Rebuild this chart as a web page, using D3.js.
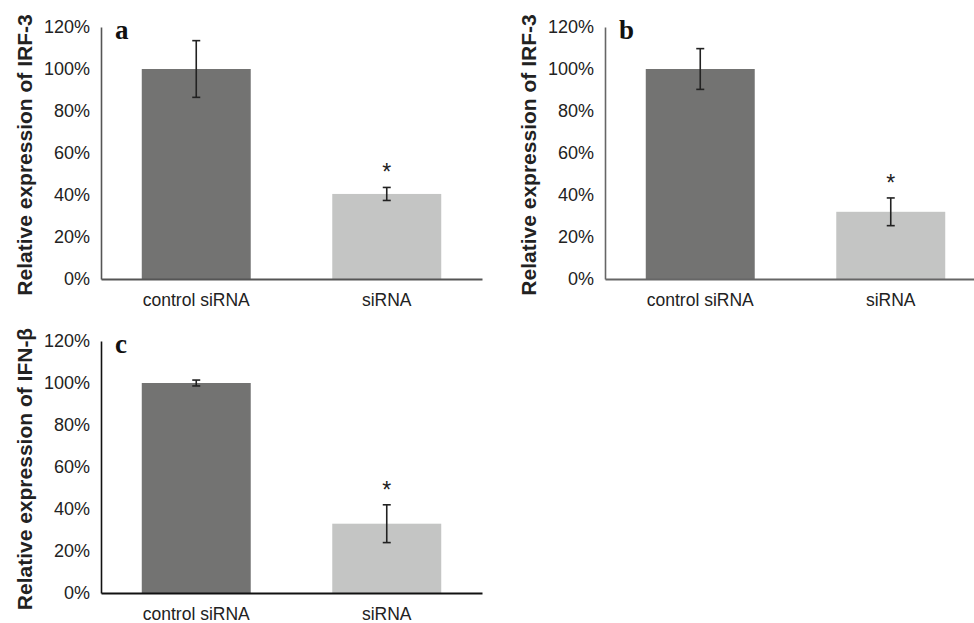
<!DOCTYPE html>
<html>
<head>
<meta charset="utf-8">
<script src="https://cdn.jsdelivr.net/npm/d3@7"></script>
<style>
  body { margin: 0; background: #fff; }
  svg { display: block; }
</style>
</head>
<body>
<div class="chart"></div>
<script>
    // values (percent of control)
    var categories = ["control siRNA", "siRNA"];
    var panelLetters = ["a", "b", "c"];
    var yTitles = ["Relative expression of IRF-3", "Relative expression of IRF-3", "Relative expression of IFN-\u03b2"];
    var meansA = [100, 40.5], errA = [13.5, 3.1];
    var meansB = [100, 32],   errB = [9.7, 6.6];
    var meansC = [100, 33],   errC = [1.4, 9];
    var yTicks = [0, 20, 40, 60, 80, 100, 120];
    var significant = [false, true];

    var barColors = ["#737372", "#c4c5c4"];

    var width = 974, height = 623;

    var svg = d3.select(".chart")
            .append("svg")
            .attr("width", width)
            .attr("height", height);

    // panel placement: left edge of plot, right edge, baseline, axis colour
    var panels = [
        { means: meansA, errs: errA, x0: 101, x1: 482, zero: 279, axisColor: "#555" },
        { means: meansB, errs: errB, x0: 605, x1: 986, zero: 279, axisColor: "#666" },
        { means: meansC, errs: errC, x0: 101, x1: 482, zero: 593, axisColor: "#111" }
    ];

    panels.forEach(function(p, i) {
        var g = svg.append("g");

        var y = d3.scaleLinear()
                .domain([0, 120])
                .range([p.zero, p.zero - 252]);

        var x = d3.scaleBand()
                .domain(categories)
                .range([p.x0, p.x1])
                .paddingInner(0.428)
                .paddingOuter(0.214);

        var rows = categories.map(function(c, k) {
            return { cat: c, mean: p.means[k], err: p.errs[k], k: k };
        });

        // bars
        g.selectAll(".bar")
                .data(rows)
                .enter()
                .append("rect")
                .attr("class", "bar")
                .attr("x", function(d) { return x(d.cat); })
                .attr("width", x.bandwidth())
                .attr("y", function(d) { return y(d.mean); })
                .attr("height", function(d) { return y(0) - y(d.mean); })
                .style("fill", function(d) { return barColors[d.k]; });

        // error bars
        var eb = g.selectAll(".err")
                .data(rows)
                .enter()
                .append("g")
                .attr("class", "err")
                .attr("transform", function(d) {
                    return "translate(" + (x(d.cat) + x.bandwidth() / 2) + ",0)";
                })
                .style("stroke", "#222")
                .style("stroke-width", 1.6);

        eb.append("line")
                .attr("y1", function(d) { return y(d.mean + d.err); })
                .attr("y2", function(d) { return y(d.mean - d.err); });
        eb.append("line")
                .attr("x1", -4).attr("x2", 4)
                .attr("y1", function(d) { return y(d.mean + d.err); })
                .attr("y2", function(d) { return y(d.mean + d.err); });
        eb.append("line")
                .attr("x1", -4).attr("x2", 4)
                .attr("y1", function(d) { return y(d.mean - d.err); })
                .attr("y2", function(d) { return y(d.mean - d.err); });

        // asterisks
        g.selectAll(".star")
                .data(rows.filter(function(d) { return significant[d.k]; }))
                .enter()
                .append("text")
                .attr("class", "star")
                .attr("x", function(d) { return x(d.cat) + x.bandwidth() / 2; })
                .attr("y", function(d) { return y(d.mean + d.err) - 7; })
                .attr("text-anchor", "middle")
                .style("font-family", "'Liberation Sans', Arial, sans-serif")
                .style("font-size", "23px")
                .style("fill", "#222")
                .text("*");

        // y axis
        var yAxis = g.append("g")
                .attr("transform", "translate(" + p.x0 + ",0)")
                .call(d3.axisLeft(y)
                    .tickValues(yTicks)
                    .tickSize(0)
                    .tickPadding(11)
                    .tickFormat(function(d) { return d + "%"; }));
        yAxis.select(".domain").style("stroke", p.axisColor).style("stroke-width", 1.6);
        yAxis.selectAll("text")
                .style("font-family", "'Liberation Sans', Arial, sans-serif")
                .style("font-size", "18px")
                .style("fill", "#222");

        // x axis
        var xAxis = g.append("g")
                .attr("transform", "translate(0," + p.zero + ")")
                .call(d3.axisBottom(x).tickSize(0).tickPadding(15));
        xAxis.select(".domain").style("stroke", p.axisColor).style("stroke-width", 2);
        xAxis.selectAll("text")
                .style("font-family", "'Liberation Sans', Arial, sans-serif")
                .style("font-size", "17.5px")
                .style("fill", "#222");

        // y title
        var cy = (y(0) + y(120)) / 2;
        g.append("text")
                .attr("transform", "translate(" + (p.x0 - 69) + "," + (cy + 2) + ") rotate(-90)")
                .attr("text-anchor", "middle")
                .style("font-family", "'Liberation Sans', Arial, sans-serif")
                .style("font-weight", "bold")
                .style("font-size", "21px")
                .style("fill", "#222")
                .text(yTitles[i]);

        // panel letter
        g.append("text")
                .attr("x", p.x0 + 14)
                .attr("y", y(120) + 12)
                .style("font-family", "'Liberation Serif', 'Times New Roman', serif")
                .style("font-weight", "bold")
                .style("font-size", "27px")
                .style("fill", "#111")
                .text(panelLetters[i]);
    });
</script>
</body>
</html>
